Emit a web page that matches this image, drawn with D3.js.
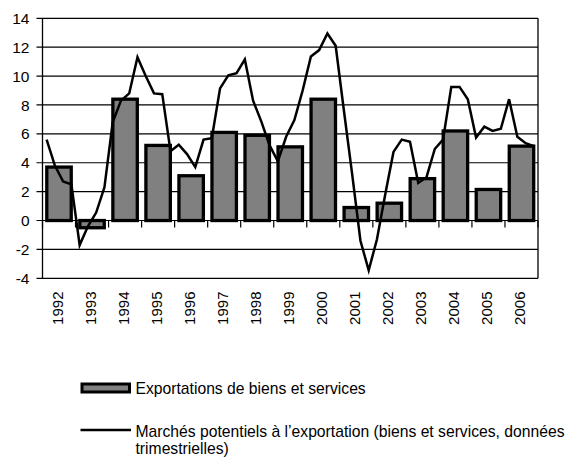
<!DOCTYPE html>
<html>
<head>
<meta charset="utf-8">
<script src="https://cdn.jsdelivr.net/npm/d3@7"></script>
<style>
  body { margin: 0; background: #fff; }
  text { font-family: "Liberation Sans", Arial, sans-serif; font-size: 15px; fill: #000; }
  .ylab { font-size: 15.5px; }
  .leg text { font-size: 15.7px; }
</style>
</head>
<body>
<div id="chart"></div>
<script>
// years on the x axis
var years = ["1992","1993","1994","1995","1996","1997","1998","1999",
             "2000","2001","2002","2003","2004","2005","2006"];

// yearly bars : exportations de biens et services
var exportations = [3.7, -0.5, 8.4, 5.2, 3.1, 6.1, 5.9, 5.1, 8.4, 0.9, 1.2, 2.9, 6.2, 2.15, 5.15];

// quarterly line : marches potentiels (4 values per year)
var marches = [
  5.6, 3.8, 2.7, 2.5,
  -1.7, -0.4, 0.55, 2.3,
  6.8, 8.3, 8.8, 11.3,
  10.0, 8.8, 8.75, 4.8,
  5.25, 4.6, 3.7, 5.6,
  5.7, 9.15, 10.05, 10.2,
  11.15, 8.3, 6.85, 5.2,
  4.1, 5.8, 6.95, 9.0,
  11.35, 11.8, 12.95, 12.1,
  7.6, 3.2, -1.4, -3.45,
  -1.3, 1.8, 4.75, 5.6,
  5.45, 2.6, 3.0, 4.95,
  5.6, 9.25, 9.25, 8.4,
  5.75, 6.5, 6.2, 6.35,
  8.4, 5.8, 5.35, 5.15
];

var yTicks = [-4, -2, 0, 2, 4, 6, 8, 10, 12, 14];

var legendLabels = ["Exportations de biens et services",
  "Marchés potentiels à l’exportation (biens et services, données",
  "trimestrielles)"];

var width = 572, height = 457;
// plot box (window.top is read-only, so no plain "top")
var plotLeft = 42.5, plotRight = 538, plotTop = 18.3, plotBottom = 278.3;

function drawChart(){

  var svg = d3.select("#chart").append("svg")
      .attr("width", width)
      .attr("height", height);

  var x = d3.scaleBand().domain(years).range([plotLeft, plotRight]).padding(0);
  var xq = d3.scaleLinear().domain([0, marches.length]).range([plotLeft, plotRight]);
  var y = d3.scaleLinear().domain([-4, 14]).range([plotBottom, plotTop]);

  //gridlines with short ticks to the left
  svg.append("g")
    .selectAll("line")
    .data(yTicks)
    .enter().append("line")
    .attr("x1", plotLeft - 6)
    .attr("x2", plotRight)
    .attr("y1", function(d){ return y(d); })
    .attr("y2", function(d){ return y(d); })
    .attr("stroke", "#000")
    .attr("stroke-width", 1.2);

  //y labels
  svg.append("g")
    .selectAll("text")
    .data(yTicks)
    .enter().append("text")
    .attr("class", "ylab")
    .attr("x", 29.5)
    .attr("y", function(d){ return y(d); })
    .attr("dy", "0.36em")
    .attr("text-anchor", "end")
    .text(function(d){ return d; });

  //left axis and right border
  svg.append("line")
    .attr("x1", plotLeft).attr("x2", plotLeft)
    .attr("y1", plotTop).attr("y2", plotBottom)
    .attr("stroke", "#000").attr("stroke-width", 1.3);
  svg.append("line")
    .attr("x1", plotRight).attr("x2", plotRight)
    .attr("y1", plotTop).attr("y2", plotBottom)
    .attr("stroke", "#000").attr("stroke-width", 1.3);

  //category ticks below the zero line
  var bounds = years.map(function(d){ return x(d); }).concat([plotRight]);
  svg.append("g")
    .selectAll("line")
    .data(bounds)
    .enter().append("line")
    .attr("x1", function(d){ return d; })
    .attr("x2", function(d){ return d; })
    .attr("y1", y(0))
    .attr("y2", y(0) + 7)
    .attr("stroke", "#000")
    .attr("stroke-width", 1.2);

  //bars
  var barW = x.bandwidth() * 0.74;
  svg.append("g")
    .selectAll("rect")
    .data(exportations)
    .enter().append("rect")
    .attr("x", function(d, i){ return x(years[i]) + (x.bandwidth() - barW) / 2; })
    .attr("y", function(d){ return y(Math.max(0, d)); })
    .attr("width", barW)
    .attr("height", function(d){ return Math.abs(y(d) - y(0)); })
    .attr("fill", "#808080")
    .attr("stroke", "#000")
    .attr("stroke-width", 3.3);

  //quarterly line
  var line = d3.line()
    .x(function(d, i){ return xq(i + 0.5); })
    .y(function(d){ return y(d); });

  svg.append("path")
    .datum(marches)
    .attr("d", line)
    .attr("fill", "none")
    .attr("stroke", "#000")
    .attr("stroke-width", 2.5)
    .attr("stroke-linejoin", "miter");

  //year labels, rotated
  svg.append("g")
    .selectAll("text")
    .data(years)
    .enter().append("text")
    .attr("transform", function(d){
      return "translate(" + (x(d) + x.bandwidth() / 2 - 1.5) + ",291.5) rotate(-90)";
    })
    .attr("dy", "0.36em")
    .attr("text-anchor", "end")
    .text(function(d){ return d; });

  //legend
  var lg = svg.append("g").attr("class", "leg");
  lg.append("rect")
    .attr("x", 82).attr("y", 384)
    .attr("width", 47.5).attr("height", 8)
    .attr("fill", "#808080")
    .attr("stroke", "#000")
    .attr("stroke-width", 3);
  lg.append("text")
    .attr("x", 135.5).attr("y", 388.5).attr("dy", "0.36em")
    .text(legendLabels[0]);

  lg.append("line")
    .attr("x1", 80.5).attr("x2", 131)
    .attr("y1", 430).attr("y2", 430)
    .attr("stroke", "#000").attr("stroke-width", 2.5);
  lg.append("text")
    .attr("x", 135.5).attr("y", 431).attr("dy", "0.36em")
    .text(legendLabels[1]);
  lg.append("text")
    .attr("x", 135.5).attr("y", 448.5).attr("dy", "0.36em")
    .text(legendLabels[2]);
}

drawChart();
</script>
</body>
</html>
